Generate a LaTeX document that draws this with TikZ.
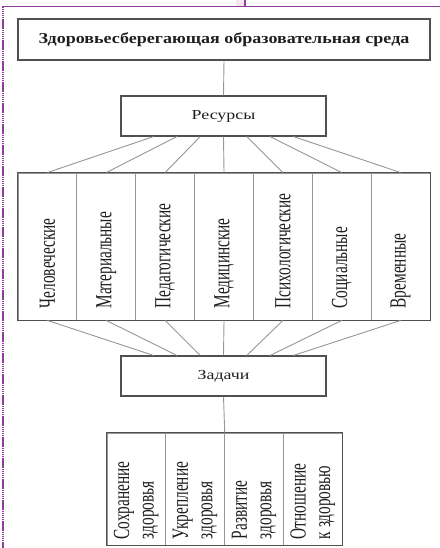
\documentclass[tikz,border=0pt]{standalone}
\usepackage{fontspec}
\setmainfont{Liberation Serif}
\usepackage{graphicx}
\usetikzlibrary{calc}
\definecolor{boxline}{HTML}{505050}
\definecolor{linkline}{HTML}{969696}
\definecolor{inkgray}{HTML}{1E1E1E}
\definecolor{framepurple}{HTML}{8E3E9A}
\definecolor{framepink}{HTML}{F6E6F2}
\newcommand{\wide}[2][1.4]{\scalebox{#1}[1]{#2}}
\newcommand{\upward}[1]{\scalebox{1.5}[1]{\rotatebox{90}{#1}}}

\begin{document}
\begin{tikzpicture}[x=1bp,y=-1bp,box/.style={draw=boxline,line width=1.1bp,inner sep=0pt,text=inkgray},cell/.style={draw=linkline,line width=0.9bp,inner sep=0pt,minimum width=\dxa bp},link/.style={draw=linkline,line width=0.9bp},vtext/.style={anchor=south,inner sep=0pt,text=inkgray,font=\fontsize{15.4}{16.4}\selectfont}]
\def\dxa{58.86};
\def\dxb{23.3};
\def\cx{224};

\useasboundingbox (0,0) rectangle (440,548);

% frame of the page
\fill[framepink] (236,0) rectangle (245,6.5);
\draw[framepurple,line width=1.3bp] (245,0) -- (245,6.5);
\draw[framepurple,line width=1.5bp] (3,6.5) -- (440,6.5);
\draw[framepurple,line width=1.3bp,dash pattern=on 1.5bp off 0.6bp] (3,6.5) -- (3,548);

\node[box,minimum width=412bp,minimum height=41bp] (env) at (\cx,39.5) {\wide[1.19]{\fontsize{15.2}{16}\selectfont\bfseries Здоровьесберегающая образовательная среда}};

\node[box,minimum width=205bp,minimum height=40bp] (res) at (223.5,116) {\wide[1.3]{\fontsize{13.8}{14}\selectfont Ресурсы}};
\draw[link] (env.south) -- (res.north);

% resources
\node[cell,minimum height=147bp] (hum) at (18+0.5*\dxa,246.5) {};
\node[cell,minimum height=147bp] (mat) at (18+1.5*\dxa,246.5) {};
\node[cell,minimum height=147bp] (ped) at (18+2.5*\dxa,246.5) {};
\node[cell,minimum height=147bp] (med) at (18+3.5*\dxa,246.5) {};
\node[cell,minimum height=147bp] (psy) at (18+4.5*\dxa,246.5) {};
\node[cell,minimum height=147bp] (soc) at (18+5.5*\dxa,246.5) {};
\node[cell,minimum height=147bp] (tim) at (18+6.5*\dxa,246.5) {};
\draw[boxline,line width=1.1bp] (hum.north west) rectangle (tim.south east);

\node[vtext] at ([yshift=12bp]hum.south) {\upward{Человеческие}};
\node[vtext] at ([yshift=12bp]mat.south) {\upward{Материальные}};
\node[vtext] at ([yshift=12bp]ped.south) {\upward{Педагогические}};
\node[vtext] at ([yshift=12bp]med.south) {\upward{Медицинские}};
\node[vtext] at ([yshift=12bp]psy.south) {\upward{Психологические}};
\node[vtext] at ([yshift=12bp]soc.south) {\upward{Социальные}};
\node[vtext] at ([yshift=12bp]tim.south) {\upward{Временные}};

\node[box,minimum width=205bp,minimum height=40bp] (task) at (223.5,376) {\wide[1.3]{\fontsize{13.8}{14}\selectfont Задачи}};

\draw[link] ([xshift=-3*\dxb bp]res.south) -- (hum.north);
\draw[link] ([xshift=-2*\dxb bp]res.south) -- (mat.north);
\draw[link] ([xshift=-1*\dxb bp]res.south) -- (ped.north);
\draw[link] (res.south) -- (med.north);
\draw[link] ([xshift=1*\dxb bp]res.south) -- (psy.north);
\draw[link] ([xshift=2*\dxb bp]res.south) -- (soc.north);
\draw[link] ([xshift=3*\dxb bp]res.south) -- (tim.north);

\draw[link] (hum.south) -- ([xshift=-3*\dxb bp]task.north);
\draw[link] (mat.south) -- ([xshift=-2*\dxb bp]task.north);
\draw[link] (ped.south) -- ([xshift=-1*\dxb bp]task.north);
\draw[link] (med.south) -- (task.north);
\draw[link] (psy.south) -- ([xshift=1*\dxb bp]task.north);
\draw[link] (soc.south) -- ([xshift=2*\dxb bp]task.north);
\draw[link] (tim.south) -- ([xshift=3*\dxb bp]task.north);

% tasks
\node[cell,minimum height=112bp] (keep) at (107+0.5*\dxa,489) {};
\node[cell,minimum height=112bp] (firm) at (107+1.5*\dxa,489) {};
\node[cell,minimum height=112bp] (grow) at (107+2.5*\dxa,489) {};
\node[cell,minimum height=112bp] (view) at (107+3.5*\dxa,489) {};
\draw[boxline,line width=1.1bp] (keep.north west) rectangle (view.south east);
\draw[link] (task.south) -- ($(firm.north east)!0.5!(grow.north west)$);

\node[vtext] at ([yshift=6bp]keep.south) {\upward{\begin{tabular}{@{}l@{}}Сохранение\\здоровья\end{tabular}}};
\node[vtext] at ([yshift=6bp]firm.south) {\upward{\begin{tabular}{@{}l@{}}Укрепление\\здоровья\end{tabular}}};
\node[vtext] at ([yshift=6bp]grow.south) {\upward{\begin{tabular}{@{}l@{}}Развитие\\здоровья\end{tabular}}};
\node[vtext] at ([yshift=6bp]view.south) {\upward{\begin{tabular}{@{}l@{}}Отношение\\к здоровью\end{tabular}}};
\end{tikzpicture}
\end{document}
